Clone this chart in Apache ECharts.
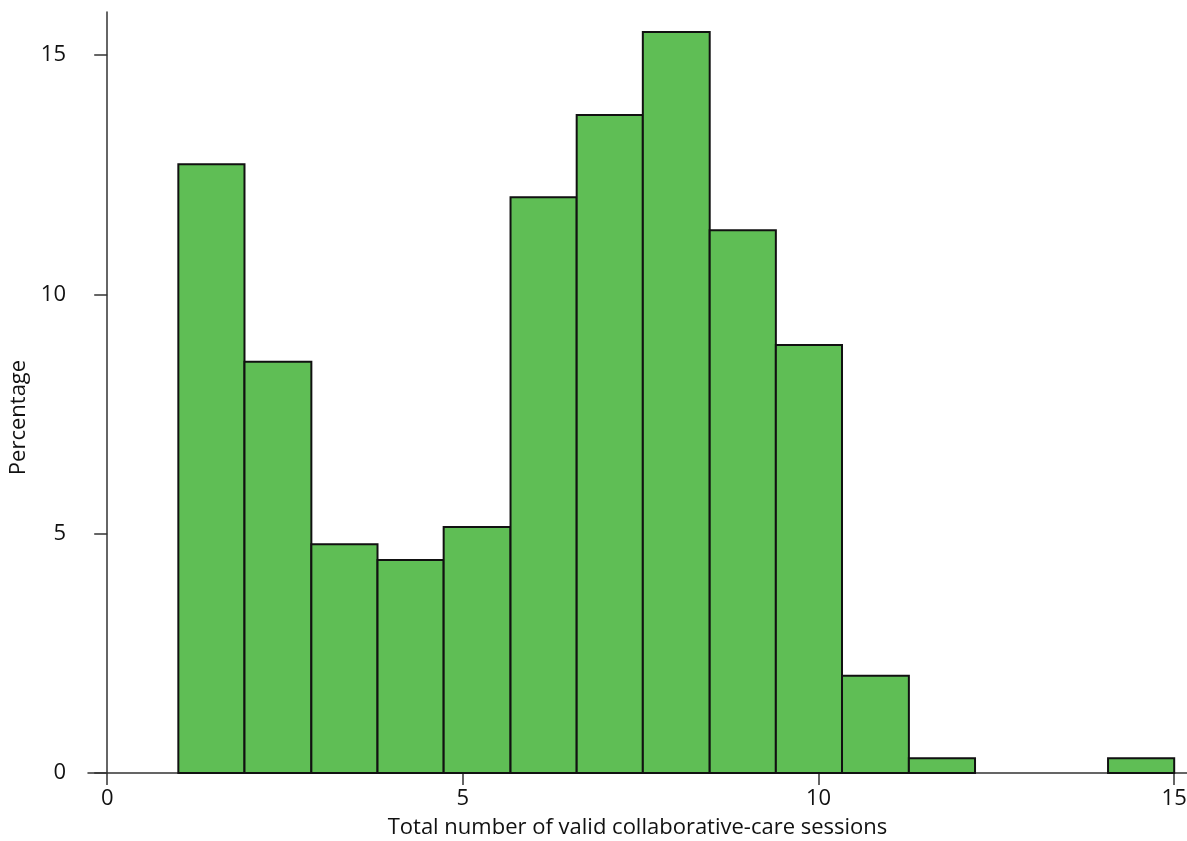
<!DOCTYPE html>
<html>
<head>
<meta charset="utf-8">
<script src="https://cdn.jsdelivr.net/npm/echarts@6/dist/echarts.min.js"></script>
<style>html,body{margin:0;padding:0;background:#fff;}#c{width:1187px;height:841px;}</style>
</head>
<body>
<div id="c"></div>
<script>
const binStarts = [1.00, 1.93, 2.87, 3.80, 4.73, 5.67, 6.60, 7.53, 8.47, 9.40, 10.33, 11.27, 12.20, 13.13, 14.07];
const binEnds   = [1.93, 2.87, 3.80, 4.73, 5.67, 6.60, 7.53, 8.47, 9.40, 10.33, 11.27, 12.20, 13.13, 14.07, 15.00];
const percentages = [12.72, 8.59, 4.78, 4.45, 5.14, 12.03, 13.75, 15.48, 11.34, 8.94, 2.03, 0.31, 0, 0, 0.31];
const xTicks = [0, 5, 10, 15];
const yTicks = [0, 5, 10, 15];
const xTitle = 'Total number of valid collaborative-care sessions';
const yTitle = 'Percentage';

const data = percentages.map((v, i) => [binStarts[i], binEnds[i], v]);
const font = 'Open Sans, Noto Sans, sans-serif';
const chart = echarts.init(document.getElementById('c'));
chart.setOption({
  animation: false,
  grid: { left: 88, right: 0, top: 12, bottom: 68, containLabel: false, outerBoundsMode: 'none' },
  xAxis: {
    type: 'value', min: -0.27, max: 15.18, interval: 5,
    axisLine: { show: true, lineStyle: { color: '#333', width: 1.5 } },
    axisTick: { show: true, length: 12, lineStyle: { color: '#333', width: 1.5 },
      customValues: xTicks },
    axisLabel: { fontSize: 22, color: '#111', fontFamily: font, margin: 15, customValues: xTicks },
    splitLine: { show: false },
    name: xTitle, nameLocation: 'middle', nameGap: 44,
    nameTextStyle: { fontSize: 22, color: '#111', fontFamily: font }
  },
  yAxis: {
    type: 'value', min: 0, max: 15.9,
    axisLine: { show: true, lineStyle: { color: '#333', width: 1.5 } },
    axisTick: { show: true, length: 13, lineStyle: { color: '#333', width: 1.5 }, customValues: yTicks },
    axisLabel: { fontSize: 22, color: '#111', fontFamily: font, margin: 22, customValues: yTicks },
    splitLine: { show: false },
    name: yTitle, nameLocation: 'middle', nameGap: 55, nameRotate: 90,
    nameTextStyle: { fontSize: 22, color: '#111', fontFamily: font, padding: [0, 50, 0, 0] }
  },
  series: [{
    type: 'custom',
    data: data,
    encode: { x: [0, 1], y: 2 },
    renderItem: function (params, api) {
      const v = api.value(2);
      if (!v) return null;
      const p1 = api.coord([api.value(0), v]);
      const p2 = api.coord([api.value(1), 0]);
      return {
        type: 'rect',
        shape: { x: p1[0], y: p1[1], width: p2[0] - p1[0], height: p2[1] - p1[1] },
        style: { fill: '#5fbe55', stroke: '#111', lineWidth: 2 }
      };
    }
  }]
});
</script>
</body>
</html>
